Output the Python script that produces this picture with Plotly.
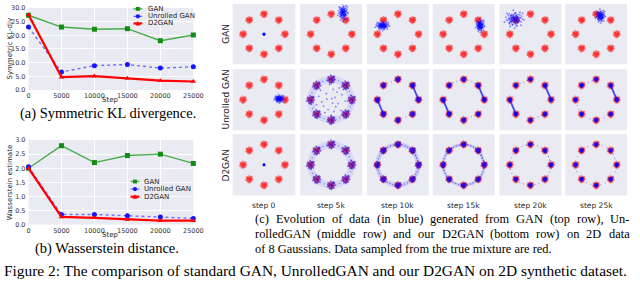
import plotly.graph_objects as go

W, H = 640, 283

# ---------------- line-chart data ----------------
steps = [0, 5000, 10000, 15000, 20000, 25000]
step_ticks = ["0", "5000", "10000", "15000", "20000", "25000"]
kl_gan = [27.3, 23.0, 22.2, 22.4, 18.0, 20.1]
kl_unrolled = [23.0, 6.6, 8.9, 9.3, 8.0, 8.5]
kl_d2gan = [27.5, 4.7, 5.1, 4.3, 3.4, 3.1]
kl_ticks = [0, 5, 10, 15, 20, 25, 30]
w_gan = [2.0, 2.8, 2.2, 2.45, 2.5, 2.17]
w_unrolled = [2.05, 0.36, 0.36, 0.31, 0.27, 0.22]
w_d2gan = [2.0, 0.27, 0.24, 0.18, 0.14, 0.14]
w_ticks = [0, 0.5, 1.0, 1.5, 2.0, 2.5, 3.0]
series_names = ["GAN", "Unrolled GAN", "D2GAN"]

# ---------------- 2D toy-panel data ----------------
panel_titles = ["step 0", "step 5k", "step 10k", "step 15k", "step 20k", "step 25k"]
row_names = ["GAN", "Unrolled GAN", "D2GAN"]
mode_x = [2.0, 1.41, 0.0, -1.41, -2.0, -1.41, 0.0, 1.41]
mode_y = [0.0, 1.41, 2.0, 1.41, 0.0, -1.41, -2.0, -1.41]
speckle_dx = [0.05, -0.42, 0.61, 0.18, -0.83, 0.95, -0.27, 0.40, -1.10, 0.72, -0.55, 0.12,
              1.25, -0.95, 0.33, -0.15, 0.85, -0.68, 0.02, -1.30, 0.52, -0.38, 1.05, 0.25]
speckle_dy = [0.10, 0.55, -0.35, 0.92, -0.20, 0.45, -0.88, -0.62, 0.30, 1.05, -1.15, -0.30,
              -0.12, 0.85, 0.20, 1.35, -0.95, -0.55, -1.40, -0.45, 0.68, 0.05, 0.90, -1.05]
red_spread = 0.25

gan_blob_x = [0.0, 1.15, -1.5, 1.6, -1.55, 0.42]
gan_blob_y = [0.0, 2.15, 0.85, 0.85, 1.5, 1.8]
gan_blob_sx = [0.04, 0.4, 0.55, 0.35, 0.75, 0.38]
gan_blob_sy = [0.04, 0.65, 0.35, 0.5, 0.65, 0.5]

unrolled_blob = [1.45, 0.1, 0.38, 0.3]
unrolled_mode_spread = [0.0, 0.3, 0.17, 0.15, 0.13, 0.13]
unrolled_inner_spread = [0.0, 1.1, 0.0, 0.0, 0.0, 0.0]
unrolled_paths = [
    [],
    [("ring", [0, 1, 2, 3, 4, 5, 6, 7, 0, 1])],
    [("trail", [3, 2]), ("streak", [4, 5]), ("streak", [1, 0]), ("trail", [6, 7])],
    [("trail", [3, 2, 1]), ("streak", [1, 0]), ("streak", [4, 5]), ("trail", [6, 7])],
    [("trail", [3, 2]), ("streak", [1, 0]), ("streak", [4, 5]), ("trail", [6, 7])],
    [("trail", [2, 3]), ("streak", [1, 0]), ("sparse", [4, 5, 6, 7])],
]
d2gan_center_spread = [0.04, 0.0, 0.0, 0.0, 0.0, 0.0]
d2gan_mode_spread = [0.0, 0.3, 0.2, 0.17, 0.14, 0.13]
d2gan_paths = [
    [],
    [("ring", [0, 1, 2, 3, 4, 5, 6, 7, 0, 1])],
    [("band", [0, 1, 2, 3, 4, 5, 6, 7, 0, 1])],
    [("band2", [0, 1, 2, 3, 4, 5, 6, 7, 0, 1])],
    [("trail", [0, 1, 2, 3, 4, 5, 6, 7, 0, 1])],
    [("sparse", [0, 1, 2, 3, 4, 5, 6, 7, 0, 1])],
]

# ---------------- styles ----------------
SANS = "DejaVu Sans"
SERIF = "Liberation Serif"
BG = "#EAEAF2"
RED_PT = "rgba(255,20,20,0.36)"
BLUE_PT = "rgba(0,0,255,0.42)"
series_style = [
    dict(line=dict(color="rgba(20,150,20,0.75)", width=1.4),
         marker=dict(symbol="square", size=5, color="rgb(20,140,20)")),
    dict(line=dict(color="rgba(70,70,255,0.75)", width=1.4, dash="dot"),
         marker=dict(symbol="circle", size=5, color="rgb(20,20,255)")),
    dict(line=dict(color="rgb(255,0,0)", width=2.2),
         marker=dict(symbol="triangle-up", size=5, color="rgb(255,0,0)")),
]
path_styles = {
    "ring":   [dict(width=7, color="rgba(0,0,255,0.08)", dash="solid"),
               dict(width=1.3, color="rgba(0,0,255,0.45)", dash="1px,3px")],
    "band":   [dict(width=4.5, color="rgba(0,0,255,0.12)", dash="solid"),
               dict(width=1.3, color="rgba(0,0,255,0.55)", dash="1px,2px")],
    "band2":  [dict(width=3.0, color="rgba(0,0,255,0.15)", dash="solid"),
               dict(width=1.2, color="rgba(0,0,255,0.6)", dash="1px,2px")],
    "trail":  [dict(width=1.0, color="rgba(0,0,255,0.5)", dash="1px,3px")],
    "sparse": [dict(width=1.0, color="rgba(0,0,255,0.4)", dash="1px,4px")],
    "streak": [dict(width=1.8, color="rgba(0,0,255,0.7)", dash="solid")],
}

# approximate Times advance widths (per 1000 em) used to justify caption lines
TIMES_W = {" ": 250, "(": 333, ")": 333, ",": 250, ".": 250, "-": 333}
TIMES_W.update({d: 500 for d in "0123456789"})
TIMES_W.update(dict(zip("ABCDEFGHIJKLMNOPQRSTUVWXYZ",
                        [722, 667, 667, 722, 611, 556, 722, 722, 333, 389, 722, 611, 889,
                         722, 722, 556, 722, 667, 556, 611, 722, 722, 944, 722, 722, 611])))
TIMES_W.update(dict(zip("abcdefghijklmnopqrstuvwxyz",
                        [444, 500, 444, 500, 444, 333, 500, 500, 278, 278, 500, 278, 778,
                         500, 500, 500, 500, 333, 389, 278, 500, 500, 722, 500, 500, 444])))


def dom_x(a, b):
    return [a / W, b / W]


def dom_y(top, bottom):
    return [1 - bottom / H, 1 - top / H]


def px(x):
    return x / W


def py(y):
    return 1 - y / H


def speckle(cx, cy, sx, sy, copies):
    rots = [(1, 0, 1.0), (0, 1, 0.75), (-1, 0, 0.55), (0, -1, 0.4)]
    xs, ys = [], []
    for k in range(copies):
        c, s, f = rots[k]
        for dx, dy in zip(speckle_dx, speckle_dy):
            rx = c * dx - s * dy
            ry = s * dx + c * dy
            xs.append(cx + rx * sx * f)
            ys.append(cy + ry * sy * f)
    return xs, ys


fig = go.Figure()
layout = {}

# ---------------- line charts (a) and (b) ----------------
charts = [
    dict(xa="x", ya="y", key="", dx=(27, 195), dy=(4, 88.5), ys=[kl_gan, kl_unrolled, kl_d2gan],
         yr=[0, 30], yt=kl_ticks),
    dict(xa="x2", ya="y2", key="2", dx=(27, 195), dy=(140, 227), ys=[w_gan, w_unrolled, w_d2gan],
         yr=[0, 3], yt=w_ticks),
]
for ch in charts:
    for name, vals, st in zip(series_names, ch["ys"], series_style):
        fig.add_trace(go.Scatter(x=steps, y=vals, name=name, mode="lines+markers",
                                 line=st["line"], marker=st["marker"], cliponaxis=False,
                                 xaxis=ch["xa"], yaxis=ch["ya"], showlegend=False))
    tickfont = dict(family=SANS, size=6.5, color="#333333")
    layout["xaxis" + ch["key"]] = dict(domain=dom_x(*ch["dx"]), anchor=ch["ya"], range=[0, 25000],
                                       tickvals=steps, ticktext=step_ticks, showgrid=True,
                                       gridcolor="white", gridwidth=1, zeroline=False,
                                       showline=False, ticks="", tickfont=tickfont,
                                       ticklabelstandoff=1, fixedrange=True)
    layout["yaxis" + ch["key"]] = dict(domain=dom_y(*ch["dy"]), anchor=ch["xa"], range=ch["yr"],
                                       tickvals=ch["yt"], ticktext=[f"{v:.1f}" for v in ch["yt"]],
                                       showgrid=True, gridcolor="white", gridwidth=1,
                                       zeroline=False, showline=False, ticks="", tickfont=tickfont,
                                       ticklabelstandoff=2, fixedrange=True)

# ---------------- scatter panels ----------------
col_px = [(235, 299), (304, 367), (372, 435), (439, 502), (507, 570), (574, 637)]
row_px = [(0, 62), (67, 130), (134, 197)]

red_x, red_y = [], []
for mx, my in zip(mode_x, mode_y):
    a, b = speckle(mx, my, red_spread, red_spread, 2)
    red_x += a
    red_y += b

for r in range(3):
    for c in range(6):
        n = 3 + r * 6 + c
        xa, ya = f"x{n}", f"y{n}"
        fig.add_trace(go.Scatter(x=red_x, y=red_y, mode="markers",
                                 marker=dict(size=1.9, color=RED_PT),
                                 xaxis=xa, yaxis=ya, showlegend=False, hoverinfo="skip"))
        groups, paths = [], []
        if r == 0:
            groups.append((gan_blob_x[c], gan_blob_y[c], gan_blob_sx[c], gan_blob_sy[c], 4))
        elif r == 1:
            if c == 0:
                groups.append((unrolled_blob[0], unrolled_blob[1], unrolled_blob[2], unrolled_blob[3], 4))
            if unrolled_mode_spread[c] > 0:
                for mx, my in zip(mode_x, mode_y):
                    groups.append((mx, my, unrolled_mode_spread[c], unrolled_mode_spread[c], 1))
            if unrolled_inner_spread[c] > 0:
                groups.append((0.0, 0.0, unrolled_inner_spread[c], unrolled_inner_spread[c], 1))
            paths = unrolled_paths[c]
        else:
            if d2gan_center_spread[c] > 0:
                groups.append((0.0, 0.0, d2gan_center_spread[c], d2gan_center_spread[c], 1))
            if d2gan_mode_spread[c] > 0:
                for mx, my in zip(mode_x, mode_y):
                    groups.append((mx, my, d2gan_mode_spread[c], d2gan_mode_spread[c], 1))
            paths = d2gan_paths[c]
        for kind, idx in paths:
            shape = "linear" if kind == "streak" else "spline"
            for ls in path_styles[kind]:
                fig.add_trace(go.Scatter(x=[mode_x[i] for i in idx], y=[mode_y[i] for i in idx],
                                         mode="lines", line=dict(shape=shape, **ls),
                                         xaxis=xa, yaxis=ya, showlegend=False, hoverinfo="skip"))
        bx, by = [], []
        for g in groups:
            a, b = speckle(*g)
            bx += a
            by += b
        fig.add_trace(go.Scatter(x=bx, y=by, mode="markers", marker=dict(size=1.9, color=BLUE_PT),
                                 xaxis=xa, yaxis=ya, showlegend=False, hoverinfo="skip"))
        key = str(n)
        layout["xaxis" + key] = dict(domain=dom_x(*col_px[c]), anchor=ya, range=[-3, 3],
                                     showgrid=False, zeroline=False, showticklabels=False,
                                     ticks="", showline=False, fixedrange=True)
        layout["yaxis" + key] = dict(domain=dom_y(*row_px[r]), anchor=xa, range=[-3, 3],
                                     showgrid=False, zeroline=False, showticklabels=False,
                                     ticks="", showline=False, fixedrange=True)

# ---------------- texts ----------------
ann = []


def text(x, y, s, size, family=SANS, color="#262626", xanchor="center", angle=0):
    ann.append(dict(x=px(x), y=py(y), xref="paper", yref="paper", text=s, showarrow=False,
                    xanchor=xanchor, yanchor="middle", textangle=angle,
                    font=dict(family=family, size=size, color=color)))


def justified(x0, x1, y, s, size):
    words = s.split(" ")
    widths = [sum(TIMES_W.get(ch, 500) for ch in w) * size / 1000 for w in words]
    gap = (x1 - x0 - sum(widths)) / (len(words) - 1)
    x = x0
    for w, wd in zip(words, widths):
        text(x, y, w, size, family=SERIF, color="black", xanchor="left")
        x += wd + gap


text(8, 46, "Symmetric KL-div", 7, angle=-90)
text(110, 99, "Step", 7)
text(8, 183.5, "Wasserstein estimate", 7, angle=-90)
text(110, 238, "Step", 7)

for c, t in enumerate(panel_titles):
    text((col_px[c][0] + col_px[c][1]) / 2, 207, t, 7.5)
for r, t in enumerate(row_names):
    text(228, (row_px[r][0] + row_px[r][1]) / 2, t, 9, angle=-90)

text(108, 113, "(a) Symmetric KL divergence.", 14.5, family=SERIF, color="black")
text(107, 252, "(b) Wasserstein distance.", 14.5, family=SERIF, color="black")
cap_lines = ["(c) Evolution of data (in blue) generated from GAN (top row), Un-",
             "rolledGAN (middle row) and our D2GAN (bottom row) on 2D data",
             "of 8 Gaussians. Data sampled from the true mixture are red."]
CAP_SIZE = 12.4
justified(256, 637, 221, cap_lines[0], CAP_SIZE)
justified(256, 637, 236.5, cap_lines[1], CAP_SIZE)
text(256, 252, cap_lines[2], CAP_SIZE, family=SERIF, color="black", xanchor="left")
text(319, 274, "Figure 2: The comparison of standard GAN, UnrolledGAN and our D2GAN on 2D synthetic dataset.",
     15.4, family=SERIF, color="black")

# ---------------- manual legends ----------------
shapes = []
legend_specs = [
    dict(ys=[5, 12.7, 20], lx=(134, 143), mx=138.5, tx=146.5),
    dict(ys=[182.7, 190.5, 198.3], lx=(131, 140), mx=135.5, tx=143),
]
for spec in legend_specs:
    for name, yc, st in zip(series_names, spec["ys"], series_style):
        ln = st["line"]
        shapes.append(dict(type="line", xref="paper", yref="paper", x0=px(spec["lx"][0]),
                           x1=px(spec["lx"][1]), y0=py(yc), y1=py(yc),
                           line=dict(color=ln["color"], width=ln["width"], dash=ln.get("dash", "solid"))))
        sym = st["marker"]["symbol"]
        col = st["marker"]["color"]
        m = spec["mx"]
        if sym == "square":
            shapes.append(dict(type="rect", xref="paper", yref="paper", x0=px(m - 2), x1=px(m + 2),
                               y0=py(yc + 2), y1=py(yc - 2), fillcolor=col, line=dict(width=0)))
        elif sym == "circle":
            shapes.append(dict(type="circle", xref="paper", yref="paper", x0=px(m - 2.2), x1=px(m + 2.2),
                               y0=py(yc + 2.2), y1=py(yc - 2.2), fillcolor=col, line=dict(width=0)))
        else:
            path = (f"M {px(m - 2.5)},{py(yc + 2)} L {px(m + 2.5)},{py(yc + 2)} "
                    f"L {px(m)},{py(yc - 2.5)} Z")
            shapes.append(dict(type="path", xref="paper", yref="paper", path=path,
                               fillcolor=col, line=dict(width=0)))
        text(spec["tx"], yc, name, 7, xanchor="left")

fig.update_layout(width=W, height=H, margin=dict(l=0, r=0, t=0, b=0), paper_bgcolor="white",
                  plot_bgcolor=BG, showlegend=False, annotations=ann, shapes=shapes, **layout)
fig.write_html("out.html", config={"displayModeBar": False},
               post_script="document.body.style.margin='0px';document.body.style.padding='0px';")
